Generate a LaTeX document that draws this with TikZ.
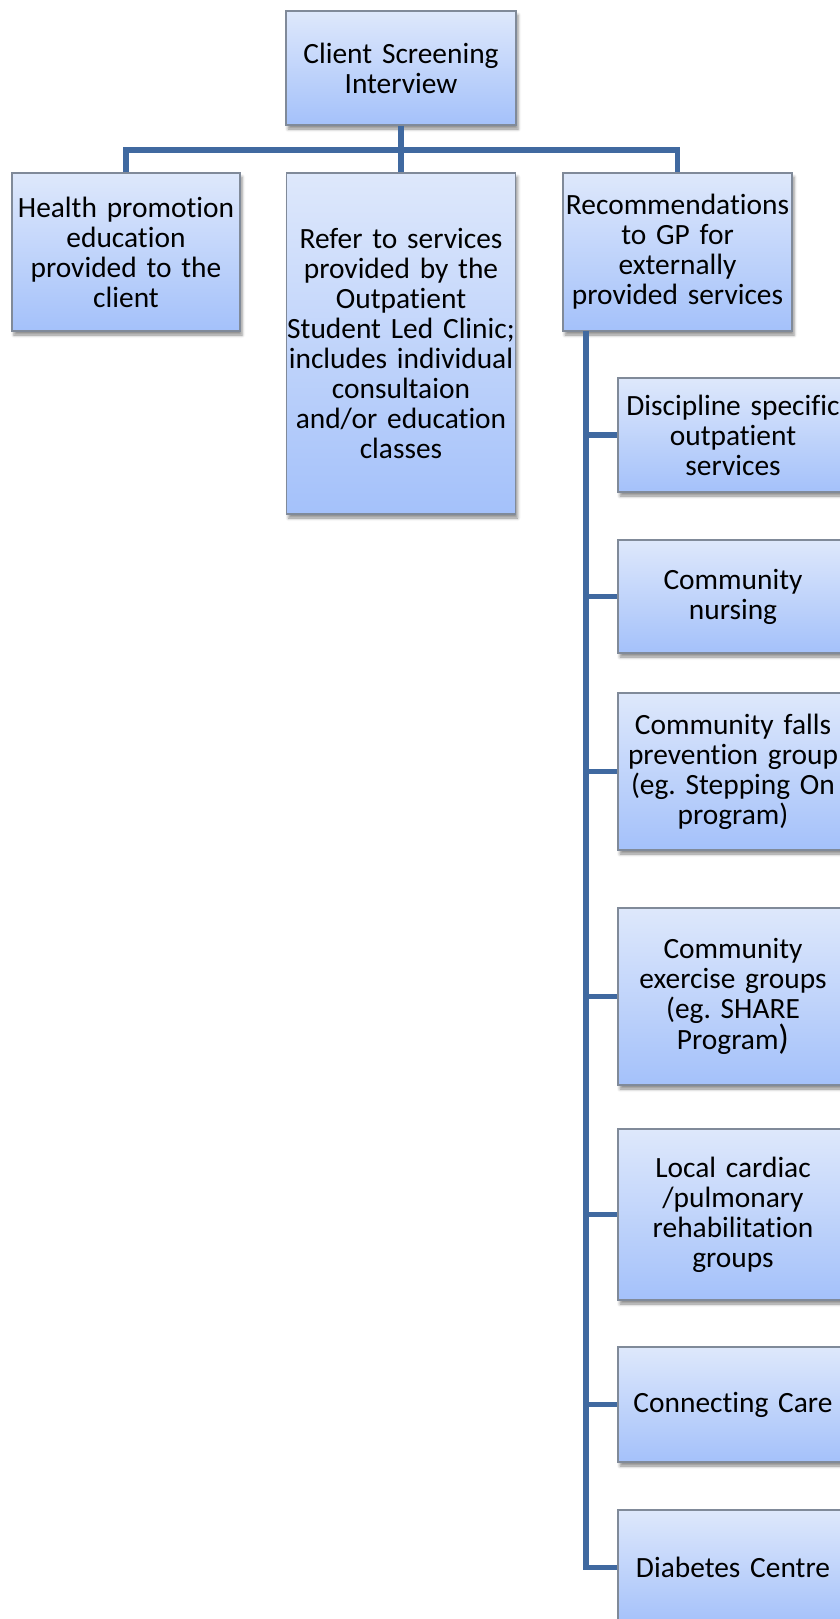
\documentclass[tikz,border=0pt]{standalone}
\usepackage{fontspec}
\setmainfont{Carlito}[Ligatures=NoCommon, WordSpace={0.95,0,0}]
\usetikzlibrary{shadows.blur}
\definecolor{boxtop}{HTML}{DEE8FB}
\definecolor{boxbot}{HTML}{A4C1FA}
\definecolor{boxline}{HTML}{808A99}
\definecolor{conn}{HTML}{4069A0}
\tikzset{
  card/.style={rectangle, draw=boxline, line width=1.1pt,
    top color=boxtop, bottom color=boxbot,
    minimum width=#1, text width=228pt, align=center, inner sep=0pt,
    font=\fontsize{29.4}{30}\selectfont\frenchspacing,
    blur shadow={shadow xshift=2pt, shadow yshift=-4pt, shadow blur radius=3pt, shadow opacity=45}},
  card/.default=230pt,
  link/.style={draw=conn, line width=5.5pt, line join=miter}
}
\begin{document}
\begin{tikzpicture}[x=1pt,y=-1pt]
\useasboundingbox (0,0) rectangle (840,1619);
\begin{scope}
\clip (0,0) rectangle (840,1619);
\coordinate (bus) at (401,150);
\coordinate (t0) at (586,331);
\node[card, minimum height=114pt] (top) at (401,68) {Client Screening\\Interview};
\node[card=228pt, minimum height=158pt] (b1) at (126,252) {Health promotion\\education\\provided to the\\client};
\node[card=229pt, minimum height=341pt] (b2) at (401,343.5) {Refer to services\\provided by the\\Outpatient\\Student Led Clinic;\\includes individual\\consultaion\\and/or education\\classes};
\node[card=229pt, minimum height=158pt] (b3) at (677.5,252) {Recommendations\\to GP for\\externally\\provided services};
\node[card, minimum height=114pt] (r1) at (733,435) {Discipline specific\\outpatient\\services};
\node[card, minimum height=113pt] (r2) at (733,596.5) {Community\\nursing};
\node[card, minimum height=157pt] (r3) at (733,771.5) {Community falls\\prevention group\\(eg. Stepping On\\program)};
\node[card, minimum height=177pt] (r4) at (733,996.5) {Community\\exercise groups\\(eg. SHARE\\Program{\fontsize{35}{30}\selectfont)}};
\node[card, minimum height=171pt] (r5) at (733,1214.5) {Local cardiac\\/pulmonary\\rehabilitation\\groups};
\node[card, minimum height=115pt] (r6) at (733,1404.5) {Connecting Care};
\node[card, minimum height=115pt] (r7) at (733,1567.5) {Diabetes Centre};
\end{scope}
\draw[link] (top.south) -- (b2.north);
\draw[link] (b1.north) |- (bus) -| (b3.north);
\draw[link] (t0) |- (r1.west);
\draw[link] (t0) |- (r2.west);
\draw[link] (t0) |- (r3.west);
\draw[link] (t0) |- (r4.west);
\draw[link] (t0) |- (r5.west);
\draw[link] (t0) |- (r6.west);
\draw[link] (t0) |- (r7.west);
\end{tikzpicture}
\end{document}
